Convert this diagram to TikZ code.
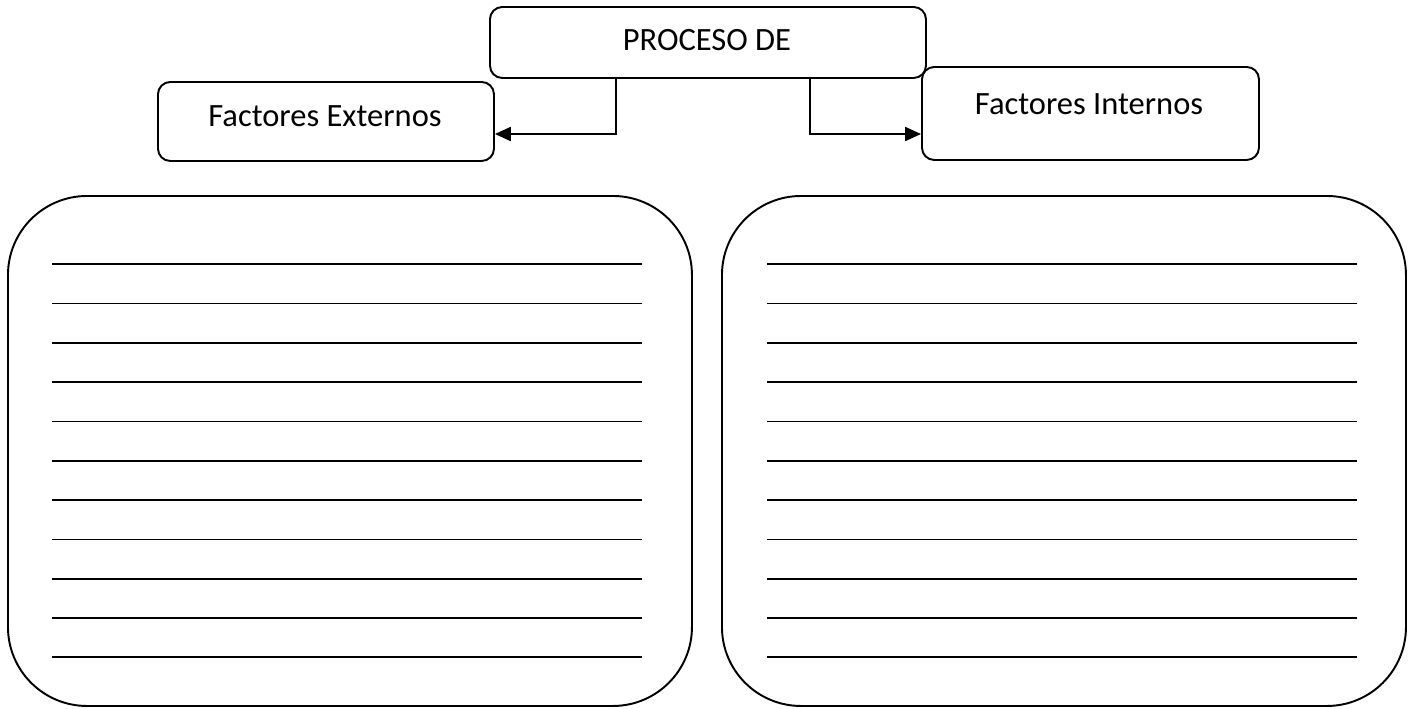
\documentclass[tikz,border=0pt]{standalone}
\usepackage{fontspec}
\setmainfont{Carlito}
\usetikzlibrary{arrows.meta,calc}
\begin{document}
\begin{tikzpicture}[x=0.02cm,y=-0.02cm,
  smallbox/.style={draw,line width=1.1pt,rounded corners=7pt,inner sep=0pt},
  bigbox/.style={draw,line width=1.1pt,rounded corners=45pt,inner sep=0pt},
  lbl/.style={font=\fontsize{18.5}{22}\selectfont},
  wline/.style={line width=1pt},
  conn/.style={line width=0.9pt,-{Triangle[length=9pt,width=8pt]}}]
\useasboundingbox (0,0) rectangle (1410,708);
% small boxes
\node[smallbox,minimum width=436*0.02cm,minimum height=71*0.02cm,anchor=north west] (proc) at (489,6) {};
\node[lbl] (proct) at (707,40) {PROCESO DE};
\node[smallbox,minimum width=336*0.02cm,minimum height=79*0.02cm,anchor=north west] (ext) at (157,81) {};
\node[lbl] (extt) at (325,116) {Factores Externos};
\node[smallbox,minimum width=337*0.02cm,minimum height=93*0.02cm,anchor=north west] (int) at (921,66) {};
\node[lbl] (intt) at (1089,104) {Factores Internos};
% connectors
\coordinate (pl) at (616,77);
\coordinate (pr) at (810,77);
\draw[conn] (pl) |- (ext.east |- 0,134);
\draw[conn] (pr) |- (int.west |- 0,134);
% big boxes
\node[bigbox,minimum width=684*0.02cm,minimum height=510*0.02cm,anchor=north west] (L) at (7,195) {};
\node[bigbox,minimum width=684*0.02cm,minimum height=510*0.02cm,anchor=north west] (R) at (721,195) {};
\foreach \y in {264,303.5,343,382,421.5,461,500,539.5,579,618,657}{
  \draw[wline] (52,\y) -- (642,\y);
  \draw[wline] (767,\y) -- (1357,\y);
}
\end{tikzpicture}
\end{document}
